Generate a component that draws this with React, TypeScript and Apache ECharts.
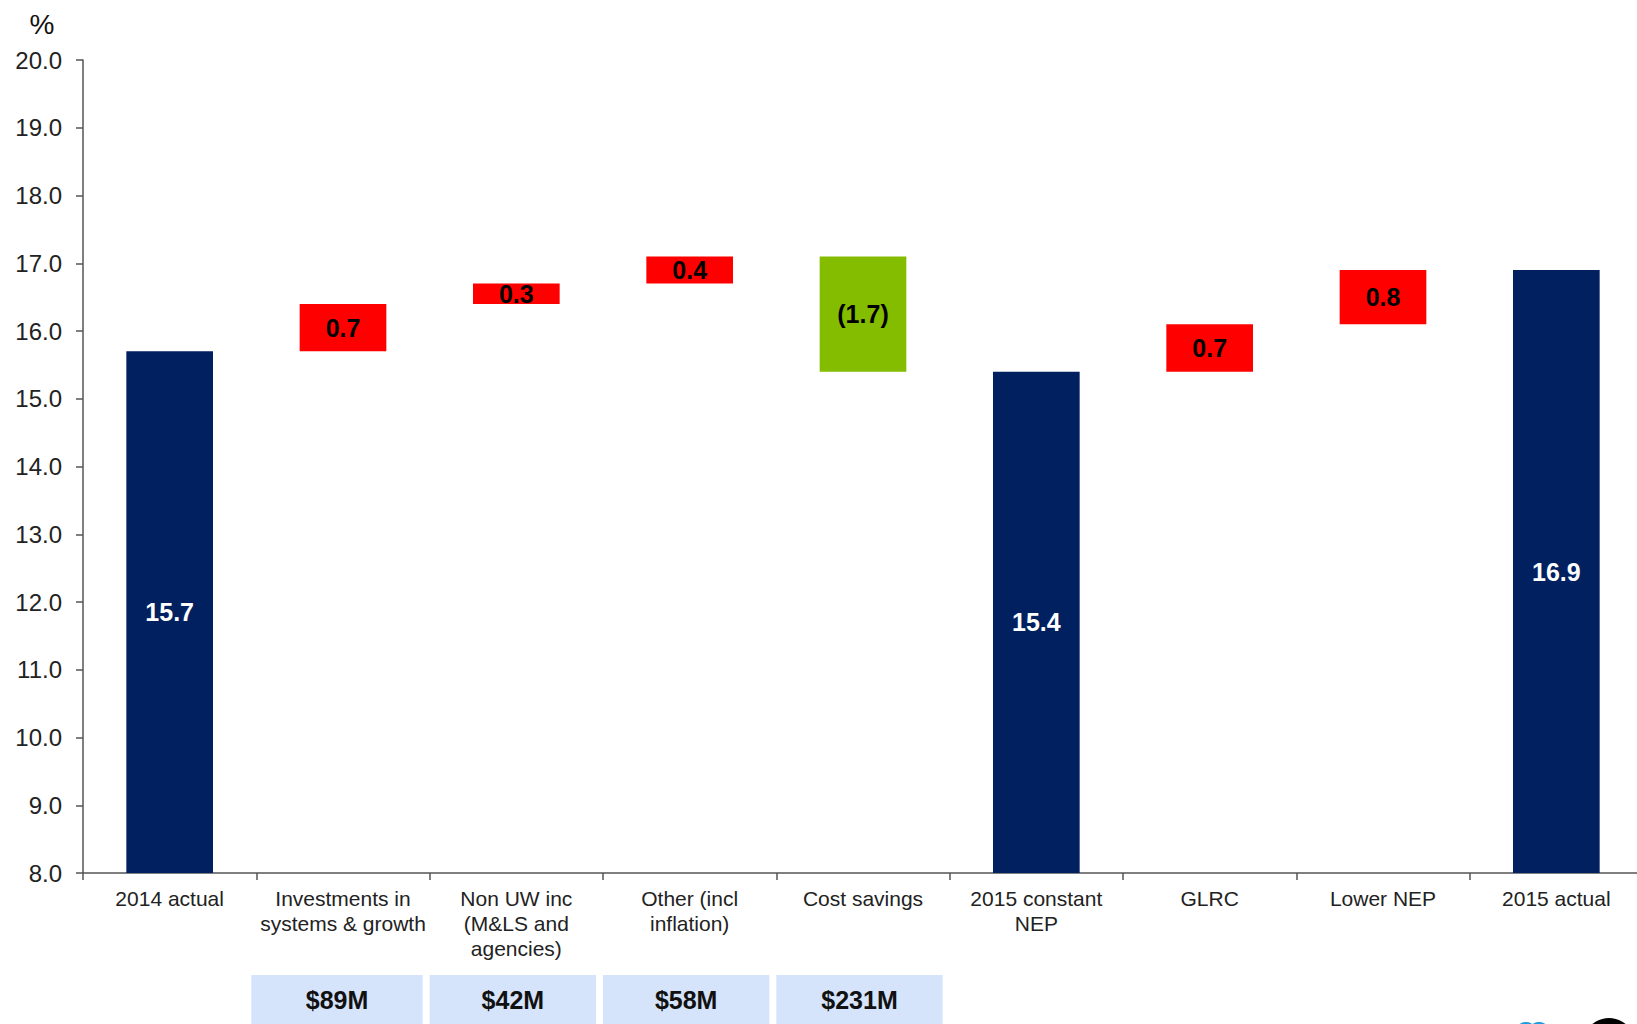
import React, { useEffect, useRef } from "react";
import * as echarts from "echarts";

const categories = [
  "2014 actual",
  "Investments in\nsystems & growth",
  "Non UW inc\n(M&LS and\nagencies)",
  "Other (incl\ninflation)",
  "Cost savings",
  "2015 constant\nNEP",
  "GLRC",
  "Lower NEP",
  "2015 actual",
];
const values = [15.7, 0.7, 0.3, 0.4, -1.7, 15.4, 0.7, 0.8, 16.9];
const kinds = ["total", "up", "up", "up", "down", "total", "up", "up", "total"];
const boxCategoryIndex = [1, 2, 3, 4];
const boxLabels = ["$89M", "$42M", "$58M", "$231M"];
const yTicks = { min: 8, max: 20, interval: 1 };

const NAVY = "#002060";
const RED = "#FF0000";
const GREEN = "#84BC00";
const FONT = "'Liberation Sans', Arial, sans-serif";

function buildWaterfall() {
  const base: number[] = [];
  const height: number[] = [];
  let running = 0;
  values.forEach((v, i) => {
    if (kinds[i] === "total") {
      base.push(yTicks.min);
      height.push(v - yTicks.min);
      running = v;
    } else if (v >= 0) {
      base.push(running);
      height.push(v);
      running += v;
    } else {
      base.push(running + v);
      height.push(-v);
      running += v;
    }
  });
  return { base, height };
}

export default function App() {
  const ref = useRef<HTMLDivElement>(null);
  useEffect(() => {
    if (!ref.current) return;
    const chart = echarts.init(ref.current, undefined, { renderer: "svg" });
    const { base, height } = buildWaterfall();
    const colorFor = (i: number) =>
      kinds[i] === "total" ? NAVY : kinds[i] === "up" ? RED : GREEN;
    chart.setOption({
      animation: false,
      textStyle: { fontFamily: FONT },
      grid: { left: 83, top: 60, right: 7, bottom: 151 },
      xAxis: {
        type: "category",
        data: categories,
        axisLine: { lineStyle: { color: "#555555", width: 1.5 } },
        axisTick: { show: true, length: 7, lineStyle: { color: "#555555", width: 1.5 } },
        axisLabel: {
          interval: 0,
          color: "#222222",
          fontSize: 21,
          lineHeight: 25,
          margin: 13,
          fontFamily: FONT,
        },
      },
      yAxis: {
        type: "value",
        min: yTicks.min,
        max: yTicks.max,
        interval: yTicks.interval,
        splitLine: { show: false },
        axisLine: { show: true, lineStyle: { color: "#555555", width: 1.5 } },
        axisTick: { show: true, length: 7, lineStyle: { color: "#555555", width: 1.5 } },
        axisLabel: {
          color: "#222222",
          fontSize: 24,
          margin: 21,
          fontFamily: FONT,
          formatter: (v: number) => v.toFixed(1),
        },
      },
      series: [
        {
          type: "bar",
          stack: "wf",
          data: base,
          itemStyle: { color: "transparent" },
          silent: true,
          barWidth: "50%",
        },
        {
          type: "bar",
          stack: "wf",
          barWidth: "50%",
          data: height.map((h, i) => ({
            value: h,
            itemStyle: { color: colorFor(i) },
            label: {
              color: kinds[i] === "total" ? "#ffffff" : "#000000",
            },
          })),
          label: {
            show: true,
            position: "inside",
            fontSize: 25,
            fontWeight: "bold",
            fontFamily: FONT,
            formatter: (p: any) => {
              const v = values[p.dataIndex];
              return v < 0 ? `(${Math.abs(v).toFixed(1)})` : v.toFixed(1);
            },
          },
        },
      ],
    });

    const c0 = chart.convertToPixel({ xAxisIndex: 0 }, 0) as number;
    const c1 = chart.convertToPixel({ xAxisIndex: 0 }, 1) as number;
    const catW = c1 - c0;
    const boxes: any[] = [];
    boxCategoryIndex.forEach((ci, k) => {
      const cx = chart.convertToPixel({ xAxisIndex: 0 }, ci) as number;
      const left = cx - catW / 2 - (k === 0 ? 5 : 0);
      const w = catW - 7 + (k === 0 ? 5 : 0);
      boxes.push({
        type: "rect",
        shape: { x: left, y: 975, width: w, height: 60 },
        style: { fill: "#D5E3FB" },
      });
      boxes.push({
        type: "text",
        x: left + w / 2,
        y: 1000,
        style: {
          text: boxLabels[k],
          fill: "#111111",
          font: `bold 25px ${FONT}`,
          align: "center",
          verticalAlign: "middle",
        },
      });
    });
    chart.setOption({
      graphic: [
        {
          type: "text",
          x: 42,
          y: 24,
          style: {
            text: "%",
            fill: "#111111",
            font: `28px ${FONT}`,
            align: "center",
            verticalAlign: "middle",
          },
        },
        ...boxes,
        { type: "circle", shape: { cx: 1526, cy: 1033, r: 11 }, style: { fill: "#1E9BE0" } },
        { type: "circle", shape: { cx: 1539, cy: 1033, r: 11 }, style: { fill: "#1E9BE0" } },
        { type: "circle", shape: { cx: 1609, cy: 1044, r: 26 }, style: { fill: "#000000" } },
      ],
    });
    return () => chart.dispose();
  }, []);
  return (
    <div
      style={{
        position: "fixed",
        left: 0,
        top: 0,
        width: 1637,
        height: 1024,
        overflow: "hidden",
        background: "#ffffff",
      }}
    >
      <div ref={ref} style={{ width: 1650, height: 1024 }} />
    </div>
  );
}
